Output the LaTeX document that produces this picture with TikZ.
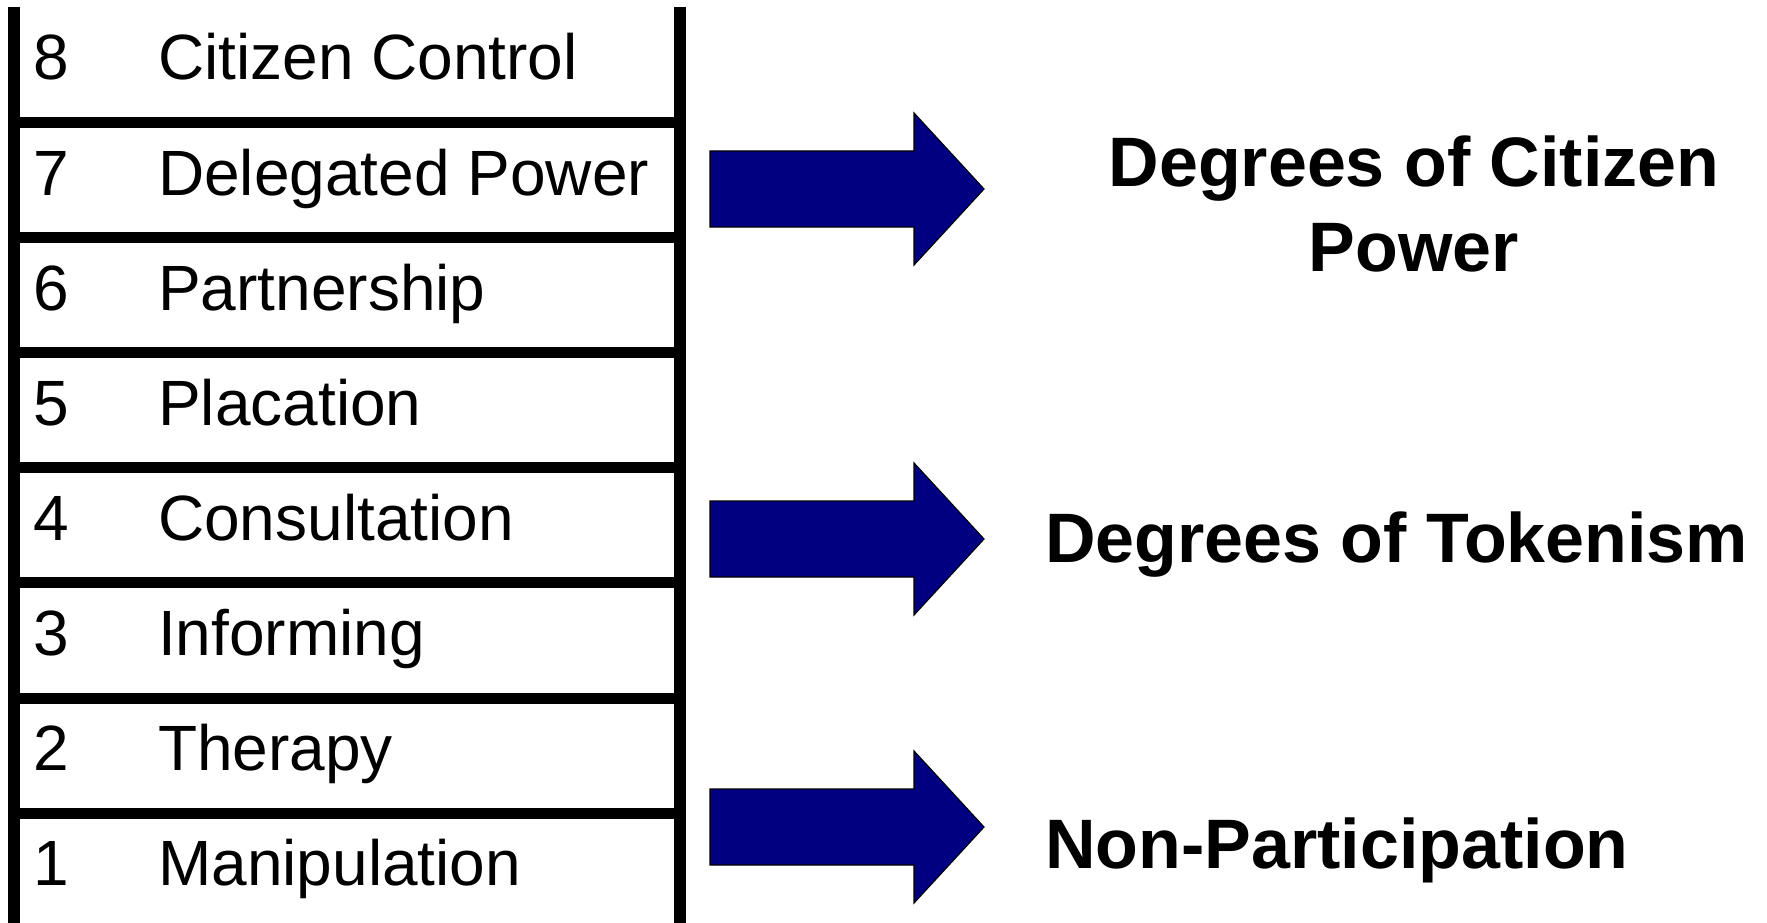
\documentclass[tikz,border=0pt]{standalone}
\usepackage{fontspec}
\setmainfont{Liberation Sans}

\definecolor{arrowblue}{RGB}{0,0,128}

\tikzset{
  rail/.style = {line width=12pt},
  rung/.style = {line width=11pt},
  rungtext/.style = {anchor=base west, inner sep=0pt, font=\fontsize{64}{77}\selectfont},
  blockarrow/.style = {fill=arrowblue, draw=black, line width=1.2pt},
  degree/.style = {inner sep=0pt, font=\fontsize{70}{85}\selectfont\bfseries}
}

\begin{document}
\begin{tikzpicture}[x=1pt, y=-1pt]
\useasboundingbox (0,0) rectangle (1767,923);
% ladder
\draw[rail] (14,7) -- (14,923);
\draw[rail] (680,7) -- (680,923);
\draw[rung] (14,122.5) -- (680,122.5);
\draw[rung] (14,237.6) -- (680,237.6);
\draw[rung] (14,352.7) -- (680,352.7);
\draw[rung] (14,467.8) -- (680,467.8);
\draw[rung] (14,582.9) -- (680,582.9);
\draw[rung] (14,698.0) -- (680,698.0);
\draw[rung] (14,813.1) -- (680,813.1);
% rungs of participation
\node[rungtext] (n8) at (33,80) {8};
\node[rungtext] (l8) at (158,80) {Citizen Control};
\node[rungtext] (n7) at (33,195.1) {7};
\node[rungtext] (l7) at (158,195.1) {Delegated Power};
\node[rungtext] (n6) at (33,310.2) {6};
\node[rungtext] (l6) at (158,310.2) {Partnership};
\node[rungtext] (n5) at (33,425.3) {5};
\node[rungtext] (l5) at (158,425.3) {Placation};
\node[rungtext] (n4) at (33,540.4) {4};
\node[rungtext] (l4) at (158,540.4) {Consultation};
\node[rungtext] (n3) at (33,655.5) {3};
\node[rungtext] (l3) at (158,655.5) {Informing};
\node[rungtext] (n2) at (33,770.6) {2};
\node[rungtext] (l2) at (158,770.6) {Therapy};
\node[rungtext] (n1) at (33,885.7) {1};
\node[rungtext] (l1) at (158,885.7) {Manipulation};
% arrows
\draw[blockarrow, shift={(710,189)}] (0,-38) -- (204,-38) -- (204,-76) -- (274,0) -- (204,76) -- (204,38) -- (0,38) -- cycle;
\draw[blockarrow, shift={(710,539)}] (0,-38) -- (204,-38) -- (204,-76) -- (274,0) -- (204,76) -- (204,38) -- (0,38) -- cycle;
\draw[blockarrow, shift={(710,827)}] (0,-38) -- (204,-38) -- (204,-76) -- (274,0) -- (204,76) -- (204,38) -- (0,38) -- cycle;
% degrees
\node[degree, align=center, anchor=base] (power) at (1414,271) {Degrees of Citizen\\Power};
\node[degree, anchor=base west] (token) at (1045,562) {Degrees of Tokenism};
\node[degree, anchor=base west] (nonpart) at (1045,868) {Non-Participation};
\end{tikzpicture}
\end{document}
